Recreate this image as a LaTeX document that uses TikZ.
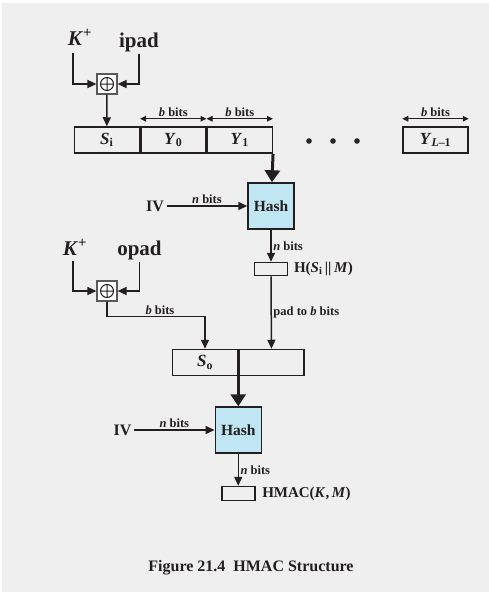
\documentclass[tikz,border=0pt]{standalone}
\usepackage{fontspec}
\setmainfont{Liberation Serif}
\usetikzlibrary{positioning, arrows.meta}

\definecolor{panel}{HTML}{EFEFEF}
\definecolor{ink}{HTML}{231F20}
\definecolor{hashblue}{HTML}{BFE6F2}

\newcommand{\bi}[1]{\textbf{\textit{#1}}}
\newcommand{\sbs}[1]{\textsubscript{#1}}

\begin{document}
\begin{tikzpicture}[x=1pt, y=-1pt, ink, line width=1.5pt,
    every node/.style={font=\bfseries},
    block/.style={draw, minimum width=65pt, minimum height=26pt, inner sep=0pt, font=\bfseries\fontsize{17}{17}\selectfont},
    hashbox/.style={draw, fill=hashblue, minimum size=46pt, inner sep=0pt, font=\bfseries\fontsize{15.5}{15.5}\selectfont},
    outbox/.style={draw, minimum width=33pt, minimum height=13pt, inner sep=0pt},
    keytext/.style={font=\bfseries\fontsize{21}{21}\selectfont, inner sep=2pt, anchor=base},
    lbl/.style={font=\bfseries\fontsize{12.5}{12.5}\selectfont, inner sep=1.5pt},
    big/.style={font=\bfseries\fontsize{16}{16}\selectfont, inner sep=2pt},
    arr/.style={-{Triangle[length=9pt, width=8pt]}},
    thick arr/.style={line width=3pt, -{Triangle[length=12pt, width=15pt]}},
    dbl/.style={line width=1.1pt, {Triangle[length=6pt, width=5.5pt]}-{Triangle[length=6pt, width=5.5pt]}},
    xorbox/.style={draw=gray!70!black, fill=white, line width=1.2pt, minimum size=20pt, inner sep=0pt,
        path picture={
            \draw[ink, line width=1pt] (path picture bounding box.center) circle (6.5pt)
                ([xshift=-6.5pt]path picture bounding box.center) -- ([xshift=6.5pt]path picture bounding box.center)
                ([yshift=-6.5pt]path picture bounding box.center) -- ([yshift=6.5pt]path picture bounding box.center);
        }}]

    % panel
    \fill[white] (0,0) rectangle (489,592);
    \fill[panel] (2,3) rectangle (489,592);
    \useasboundingbox (0,0) rectangle (489,592);

    % inner key
    \node[keytext] (key1) at (80,45)  {\textit{K}\textsuperscript{+}};
    \node[keytext] (ipad) at (139,47) {ipad};
    \node[xorbox]  (xor1) at (107,84) {};
    \draw[arr] ([xshift=-7pt, yshift=-5pt]key1.south) |- (xor1.west);
    \draw[arr] (ipad.south) |- (xor1.east);

    % message blocks
    \node[block]                    (si) at (106.8,140) {\bi{S}\sbs{i}};
    \node[block, right=0pt of si]   (y0) {\bi{Y}\sbs{0}};
    \node[block, right=0pt of y0]   (y1) {\bi{Y}\sbs{1}};
    \node[block]                    (yl) at (435.5,140) {\bi{Y}\sbs{\textit{L}–1}};
    \foreach \x in {309,333,357}
        \fill (\x,141) circle (2.8);
    \draw[arr] (xor1) -- (si);
    \foreach \b in {y0, y1, yl}
        \draw[dbl] ([yshift=7.5pt]\b.north west) -- node[above, lbl] {\bi{b} bits} ([yshift=7.5pt]\b.north east);

    % inner hash
    \node[hashbox] (hash1) at (271,206) {Hash};
    \node[big]     (iv1)   at (155,206) {IV};
    \node[outbox, below=32pt of hash1] (h1) {};
    \node[big, font=\bfseries\fontsize{15}{15}\selectfont, right=3pt of h1] (hin) {H(\bi{S}\sbs{i}\,||\,\bi{M})};
    \draw[thick arr] (y1.south east) -- (hash1);
    \draw[arr] (iv1) -- node[above, lbl] {\bi{n} bits} (hash1);
    \draw[arr] (hash1) -- node[right, lbl] {\bi{n} bits} (h1);

    % outer key
    \node[keytext] (key2) at (75,255)  {\textit{K}\textsuperscript{+}};
    \node[keytext] (opad) at (139.5,255) {opad};
    \node[xorbox]  (xor2) at (107,291) {};
    \draw[arr] ([xshift=-2pt, yshift=-3pt]key2.south) |- (xor2.west);
    \draw[arr] (opad.south) |- (xor2.east);

    % outer blocks
    \node[block]                   (so)     at (205,362.5) {\bi{S}\sbs{o}};
    \node[block, right=0pt of so]  (sblank) {};
    \draw[arr] (xor2.south) -- ++(0,15) -| node[pos=0.27, above, lbl] {\bi{b} bits} (so.north);
    \draw[arr] (h1) -- node[right, lbl] {pad to \bi{b} bits} (sblank);

    % outer hash
    \node[hashbox, below=30pt of so.south east] (hash2) {Hash};
    \node[big] (iv2) at (122.5,430) {IV};
    \node[outbox, minimum height=14pt, below=32pt of hash2] (hmac) {};
    \node[big, font=\bfseries\fontsize{15}{15}\selectfont, right=4pt of hmac] (hout) {HMAC(\bi{K},\,\bi{M})};
    \draw[thick arr] (so.south east) -- (hash2);
    \draw[arr] (iv2) -- node[above, lbl] {\bi{n} bits} (hash2);
    \draw[arr] (hash2) -- node[right, lbl] {\bi{n} bits} (hmac);

    % caption
    \node[font=\bfseries\fontsize{16}{16}\selectfont] (caption) at (251,568) {Figure 21.4\ \ HMAC Structure};
\end{tikzpicture}
\end{document}
